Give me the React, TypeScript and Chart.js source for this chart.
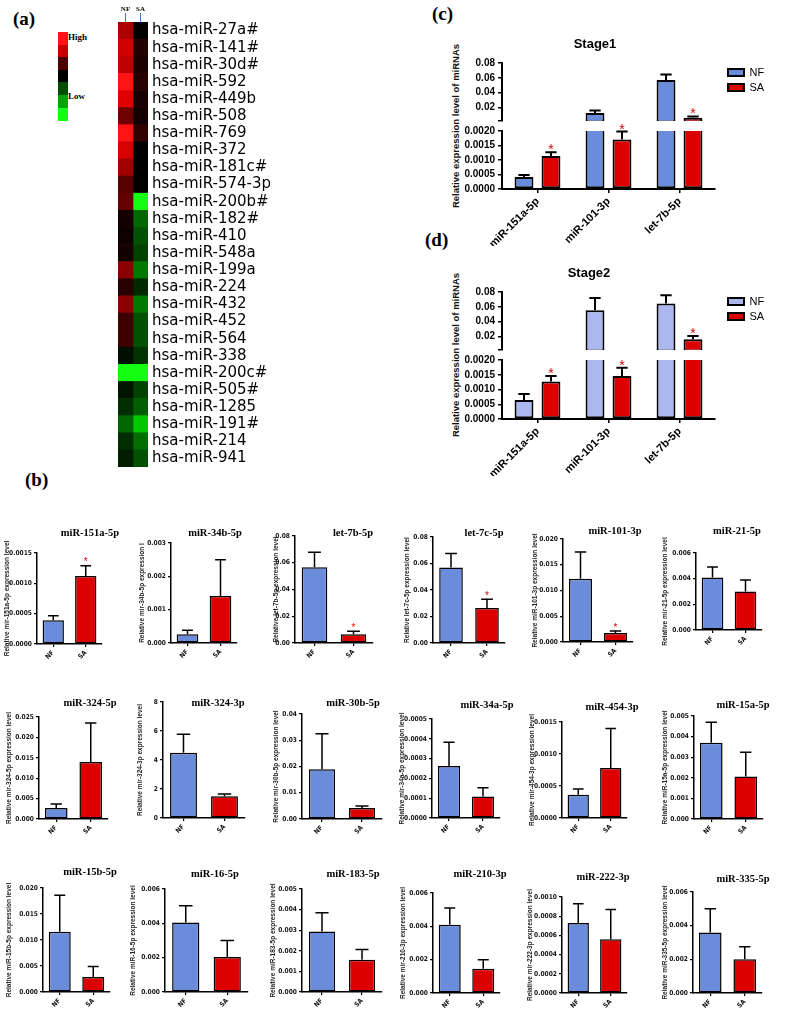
import React, { useEffect, useRef } from 'react';
import { Chart, registerables } from 'chart.js';

Chart.register(...registerables);

/* ================= DATA ================= */

/* (a) heat map */
const heatRows = [
  'hsa-miR-27a#', 'hsa-miR-141#', 'hsa-miR-30d#', 'hsa-miR-592', 'hsa-miR-449b', 'hsa-miR-508',
  'hsa-miR-769', 'hsa-miR-372', 'hsa-miR-181c#', 'hsa-miR-574-3p', 'hsa-miR-200b#', 'hsa-miR-182#',
  'hsa-miR-410', 'hsa-miR-548a', 'hsa-miR-199a', 'hsa-miR-224', 'hsa-miR-432', 'hsa-miR-452',
  'hsa-miR-564', 'hsa-miR-338', 'hsa-miR-200c#', 'hsa-miR-505#', 'hsa-miR-1285', 'hsa-miR-191#',
  'hsa-miR-214', 'hsa-miR-941',
];
const heatGroups = ['NF', 'SA'];
const heatNF = [0.67, 0.82, 0.75, 1.0, 0.88, 0.43, 1.0, 0.84, 0.63, 0.35, 0.4, 0.08, 0.06, 0.08, 0.55, 0.16, 0.55, 0.24, 0.24, -0.06, -1.0, -0.08, -0.18, -0.4, -0.18, -0.12];
const heatSA = [0.02, 0.14, 0.12, 0.16, 0.1, 0.08, 0.2, 0, 0, 0, -1.0, -0.4, -0.32, -0.26, -0.47, -0.16, -0.47, -0.32, -0.32, -0.2, -1.0, -0.26, -0.37, -0.78, -0.43, -0.32];
const heatKeyValues = [1, 0.78, 0.3, 0, -0.3, -0.65, -1];
const heatKeyLabels = ['High', 'Low'];

/* (c) and (d) */
const stageCategories = ['miR-151a-5p', 'miR-101-3p', 'let-7b-5p'];
const stageSeries = ['NF', 'SA'];
const stage1NF = [0.00041, 0.0126, 0.0571];
const stage1NFErr = [0.00007, 0.0036, 0.0076];
const stage1SA = [0.00114, 0.00171, 0.0063];
const stage1SAErr = [0.00013, 0.00027, 0.0018];
const stage2NF = [0.00064, 0.0556, 0.0644];
const stage2NFErr = [0.00021, 0.0164, 0.0112];
const stage2SA = [0.00127, 0.00146, 0.0164];
const stage2SAErr = [0.00019, 0.00028, 0.0045];
const stageSignificant = [true, true, true];
const upperMin = 0.002;
const upperTicks = [0.02, 0.04, 0.06, 0.08];
const lowerTicks = [0, 0.0005, 0.001, 0.0015, 0.002];
const stageTitles = ['Stage1', 'Stage2'];
const stageYTitle = 'Relative expression level of miRNAs';

/* (b) */
const bGroups = ['NF', 'SA'];
const bTitles = [
  'miR-151a-5p', 'miR-34b-5p', 'let-7b-5p', 'let-7c-5p', 'miR-101-3p', 'miR-21-5p',
  'miR-324-5p', 'miR-324-3p', 'miR-30b-5p', 'miR-34a-5p', 'miR-454-3p', 'miR-15a-5p',
  'miR-15b-5p', 'miR-16-5p', 'miR-183-5p', 'miR-210-3p', 'miR-222-3p', 'miR-335-5p',
];
const bYTitles = [
  'Relative mir-151a-5p expression level', 'Relative mir-34b-5p expression l', 'Relative let-7b-5p expression level',
  'Relative let-7c-5p expression level', 'Relative miR-101-3p expression level', 'Relative mir-21-5p expression level',
  'Relative mir-324-5p expression level', 'Relative mir-324-3p expression level', 'Relative mir-30b-5p expression level',
  'Relative mir-34a-5p expression level', 'Relative mir-454-3p expression level', 'Relative miR-15a-5p expression level',
  'Relative miR-15b-5p expression level', 'Relative miR-16-5p expression level', 'Relative miR-183-5p expression level',
  'Relative mir-210-3p expression level', 'Relative mir-222-3p expression level', 'Relative miR-335-5p expression level',
];
const bNF = [0.00039, 0.00026, 0.0566, 0.057, 0.01226, 0.0041, 0.0027, 4.5, 0.019, 0.000263, 0.000364, 0.0037, 0.0116, 0.00405, 0.00294, 0.0041, 0.00073, 0.0036];
const bNFErr = [0.000075, 0.00012, 0.0112, 0.0105, 0.0052, 0.0008, 0.001, 1.28, 0.0135, 0.00012, 0.00009, 0.001, 0.007, 0.00098, 0.00091, 0.001, 0.0002, 0.0014];
const bSA = [0.00112, 0.00141, 0.0065, 0.0265, 0.00174, 0.003, 0.014, 1.5, 0.0042, 0.000108, 0.00078, 0.00206, 0.0029, 0.00204, 0.00157, 0.00146, 0.00056, 0.002];
const bSAErr = [0.00017, 0.00109, 0.0022, 0.0065, 0.0004, 0.0009, 0.0095, 0.15, 0.0008, 0.000045, 0.00062, 0.00118, 0.002, 0.00096, 0.00049, 0.00054, 0.00031, 0.00075];
const bYMax = [0.0015, 0.003, 0.08, 0.08, 0.02, 0.006, 0.025, 8, 0.04, 0.0005, 0.0015, 0.005, 0.02, 0.006, 0.005, 0.006, 0.001, 0.006];
const bYStep = [0.0005, 0.001, 0.02, 0.02, 0.005, 0.002, 0.005, 2, 0.01, 0.0001, 0.0005, 0.001, 0.005, 0.002, 0.001, 0.002, 0.0002, 0.002];
const bSignificant = [true, false, true, true, true, false, false, false, false, false, false, false, false, false, false, false, false, false];

/* ================= LAYOUT / STYLE ================= */

const FONT_SANS = "'Liberation Sans', Arial, Helvetica, sans-serif";
const FONT_NARROW = "'Liberation Sans Narrow', 'Arial Narrow', 'DejaVu Sans Condensed', 'Liberation Sans', sans-serif";
const FONT_SERIF = "'Liberation Serif', 'Times New Roman', serif";
const FONT_HEAT = "'DejaVu Sans', Verdana, sans-serif";
const BLUE = '#6b8cda';
const BLUE_LIGHT = '#abb7ee';
const RED = '#dd0000';

Chart.defaults.font.family = FONT_SANS;
Chart.defaults.color = '#000';

// [axisLeft, axisRight, plotTop, plotBottom, titleCx, titleCy, yTitleCx]
const bFrames = [
  [37, 102, 553, 644, 90, 533, 7],
  [171, 237, 543, 643, 215, 533, 142],
  [295, 373, 536, 643, 353, 533, 276],
  [433, 505, 537, 643, 484, 533, 407],
  [563, 633, 539, 642, 615, 531, 535],
  [696, 762, 553, 630, 737, 531, 665],
  [39, 108, 717, 819, 90, 703, 9],
  [163, 245, 702, 818, 218, 703, 140],
  [302, 382, 714, 819, 353, 703, 276],
  [432, 500, 719, 818, 487, 705, 402],
  [562, 627, 722, 818, 612, 707, 532],
  [694, 763, 716, 819, 743, 705, 665],
  [43, 110, 888, 992, 90, 872, 9],
  [165, 248, 889, 992, 215, 874, 133],
  [302, 382, 889, 992, 353, 874, 273],
  [433, 500, 893, 993, 480, 874, 403],
  [562, 627, 897, 993, 603, 877, 530],
  [693, 762, 892, 993, 743, 879, 665],
];

const stageFrames = [
  { axisL: 502, axisR: 715, upT: 63, upB: 121, loT: 131, loB: 189, titleCx: 595, titleCy: 44, yTitleCx: 456, yTitleCy: 126 },
  { axisL: 502, axisR: 715, upT: 292, upB: 350, loT: 360, loB: 419, titleCx: 589, titleCy: 273, yTitleCx: 456, yTitleCy: 355 },
];

/* ================= HELPERS ================= */

function heatColor(v: number) {
  const a = Math.min(1, Math.abs(v));
  const main = Math.round(255 * a);
  const soft = a > 0.92 ? Math.round((a - 0.92) * 250) : 0;
  return v >= 0 ? `rgb(${main},${soft},${soft})` : `rgb(${soft},${main},${soft})`;
}

function decimalsOf(step: number) {
  return Math.max(0, Math.ceil(-Math.log10(step) - 1e-9));
}

type TextItem = { text: string; x: number; y: number; font: string; color?: string };

function textPlugin(items: TextItem[]) {
  return {
    id: 'panelText',
    afterDraw(chart: any) {
      const ctx = chart.ctx;
      ctx.save();
      items.forEach((t) => {
        ctx.font = t.font;
        ctx.fillStyle = t.color || '#000';
        ctx.textAlign = 'center';
        ctx.textBaseline = 'middle';
        ctx.fillText(t.text, t.x, t.y);
      });
      ctx.restore();
    },
  };
}

function errorBars(errs: number[][], sig: boolean[][], style: { lw: number; cap: number; starSize: number; gap: number }) {
  return {
    id: 'errorBars',
    afterDatasetsDraw(chart: any) {
      const y = chart.scales.y;
      const ctx = chart.ctx;
      ctx.save();
      chart.data.datasets.forEach((ds: any, di: number) => {
        const meta = chart.getDatasetMeta(di);
        meta.data.forEach((bar: any, i: number) => {
          const v = ds.data[i];
          const top = v + errs[di][i];
          if (v < y.min - 1e-12 || top > y.max + 1e-12) return;
          const x = bar.x;
          const y0 = y.getPixelForValue(v);
          const y1 = y.getPixelForValue(top);
          const half = (bar.width * style.cap) / 2;
          ctx.strokeStyle = '#000';
          ctx.lineWidth = style.lw;
          ctx.beginPath();
          ctx.moveTo(x, y0);
          ctx.lineTo(x, y1);
          ctx.moveTo(x - half, y1);
          ctx.lineTo(x + half, y1);
          ctx.stroke();
          if (sig[di] && sig[di][i]) {
            ctx.fillStyle = RED;
            ctx.font = `${style.starSize}px ${FONT_SANS}`;
            ctx.textAlign = 'center';
            ctx.textBaseline = 'alphabetic';
            ctx.fillText('*', x, y1 - style.gap + style.starSize * 0.57);
          }
        });
      });
      ctx.restore();
    },
  };
}

function legendFix(width: number, shift: number) {
  return {
    id: 'legendFix',
    beforeInit(chart: any) {
      const lg = chart.legend;
      if (!lg) return;
      const fit = lg.fit;
      lg.fit = function () {
        fit.call(this);
        this.width = width;
      };
    },
    afterLayout(chart: any) {
      const lg = chart.legend;
      if (lg) {
        lg.left += shift;
        lg.right += shift;
      }
    },
  };
}

type Box = { left: number; top: number; width: number; height: number };
type Spec = { key: string; box: Box; make: () => any };

function ChartBox({ spec }: { spec: Spec }) {
  const ref = useRef<HTMLCanvasElement | null>(null);
  useEffect(() => {
    if (!ref.current) return;
    const chart = new Chart(ref.current, spec.make());
    return () => chart.destroy();
  }, []);
  const { left, top, width, height } = spec.box;
  return (
    <div style={{ position: 'absolute', left, top, width, height }}>
      <canvas ref={ref} />
    </div>
  );
}

/* ================= CHART SPECS ================= */

function heatSpec(): Spec {
  const cellsW = 30;
  const labelW = 152;
  return {
    key: 'heat',
    box: { left: 118, top: 0, width: cellsW + labelW, height: 481 },
    make: () => ({
      type: 'bar',
      data: {
        labels: heatRows,
        datasets: [
          { label: heatGroups[0], data: heatRows.map(() => 1), backgroundColor: heatNF.map(heatColor), borderWidth: 0, barPercentage: 1, categoryPercentage: 1 },
          { label: heatGroups[1], data: heatRows.map(() => 1), backgroundColor: heatSA.map(heatColor), borderWidth: 0, barPercentage: 1, categoryPercentage: 1 },
        ],
      },
      options: {
        indexAxis: 'y',
        animation: false,
        responsive: true,
        maintainAspectRatio: false,
        layout: { padding: { top: 2, bottom: 14, left: 0, right: 0 } },
        plugins: { legend: { display: false }, tooltip: { enabled: false } },
        scales: {
          x: { stacked: true, min: 0, max: heatGroups.length, display: false },
          x2: {
            type: 'category',
            labels: heatGroups,
            position: 'top',
            offset: true,
            grid: { display: true, drawOnChartArea: false, drawTicks: true, tickLength: 9, color: '#3f74d0', lineWidth: 1, offset: false },
            border: { display: false },
            ticks: { color: '#000', padding: 0, autoSkip: false, maxRotation: 0, font: { family: FONT_SERIF, size: 7, weight: 'bold' } },
            afterFit: (s: any) => { s.height = 20; },
          },
          y: {
            stacked: true,
            position: 'right',
            grid: { display: false, drawTicks: false },
            border: { display: false },
            ticks: { color: '#000', padding: 4, autoSkip: false, font: { family: FONT_HEAT, size: 15 } },
            afterFit: (s: any) => { s.width = labelW; },
          },
        },
      },
    }),
  };
}

function stageSpecs(k: number): Spec[] {
  const f = stageFrames[k];
  const nf = k === 0 ? stage1NF : stage2NF;
  const nfErr = k === 0 ? stage1NFErr : stage2NFErr;
  const sa = k === 0 ? stage1SA : stage2SA;
  const saErr = k === 0 ? stage1SAErr : stage2SAErr;
  const nfColor = k === 0 ? BLUE : BLUE_LIGHT;
  const left = 440;
  const width = 787 - left;
  const legendW = 787 - f.axisR;
  const yW = f.axisL - left;
  const xH = 57;

  const datasets = () => [
    { label: stageSeries[0], data: nf, backgroundColor: nfColor, borderColor: '#000', borderWidth: 2, borderSkipped: false, barPercentage: 0.7, categoryPercentage: 0.76, clip: 0 },
    { label: stageSeries[1], data: sa, backgroundColor: RED, borderColor: '#000', borderWidth: 2, borderSkipped: false, barPercentage: 0.7, categoryPercentage: 0.76, clip: 0 },
  ];
  const errs = [nfErr, saErr];
  const sig = [stageCategories.map(() => false), stageSignificant];
  const errStyle = { lw: 2, cap: 0.6, starSize: 14, gap: 6 };
  const yCommon = {
    grid: { display: true, drawOnChartArea: false, drawTicks: true, tickLength: 4, color: '#000', lineWidth: 1.5 },
    border: { display: true, color: '#000', width: 2 },
    afterFit: (s: any) => { s.width = yW; },
  };
  const tickFont = { family: FONT_SANS, size: 10, weight: 'bold' };

  const upTop = f.titleCy - 14;
  const upper: Spec = {
    key: `s${k}u`,
    box: { left, top: upTop, width, height: f.upB + 10 - upTop },
    make: () => ({
      type: 'bar',
      data: { labels: stageCategories, datasets: datasets() },
      options: {
        animation: false,
        responsive: true,
        maintainAspectRatio: false,
        layout: { padding: { top: f.upT - upTop, bottom: 10, left: 0, right: 0 } },
        plugins: {
          tooltip: { enabled: false },
          legend: {
            display: true,
            position: 'right',
            align: 'start',
            labels: { boxWidth: 16, boxHeight: 7, padding: 4, color: '#000', font: { family: FONT_SANS, size: 11 } },
          },
        },
        scales: {
          x: { display: false, offset: true },
          y: {
            ...yCommon,
            min: upperMin,
            max: upperTicks[upperTicks.length - 1],
            afterBuildTicks: (s: any) => { s.ticks = [upperMin, ...upperTicks].map((value) => ({ value })); },
            ticks: { color: '#000', padding: 3, autoSkip: false, font: tickFont, callback: (v: any) => (v === upperMin ? '' : Number(v).toFixed(2)) },
          },
        },
      },
      plugins: [
        legendFix(legendW, 9),
        errorBars(errs, sig, errStyle),
        textPlugin([{ text: stageTitles[k], x: f.titleCx - left, y: f.titleCy - upTop, font: `bold 13px ${FONT_SANS}` }]),
      ],
    }),
  };

  const loTop = f.loT - 10;
  const lower: Spec = {
    key: `s${k}l`,
    box: { left, top: loTop, width, height: f.loB - loTop + xH },
    make: () => ({
      type: 'bar',
      data: { labels: stageCategories, datasets: datasets() },
      options: {
        animation: false,
        responsive: true,
        maintainAspectRatio: false,
        layout: { padding: { top: 10, bottom: 0, left: 0, right: legendW } },
        plugins: { tooltip: { enabled: false }, legend: { display: false } },
        scales: {
          x: {
            offset: true,
            grid: { display: true, drawOnChartArea: false, drawTicks: true, tickLength: 4, color: '#000', lineWidth: 1.5, offset: false },
            border: { display: true, color: '#000', width: 2 },
            ticks: { color: '#000', padding: 2, autoSkip: false, minRotation: 45, maxRotation: 45, font: { family: FONT_SANS, size: 11, weight: 'bold' } },
            afterFit: (s: any) => { s.height = xH; },
          },
          y: {
            ...yCommon,
            min: lowerTicks[0],
            max: lowerTicks[lowerTicks.length - 1],
            afterBuildTicks: (s: any) => { s.ticks = lowerTicks.map((value) => ({ value })); },
            ticks: { color: '#000', padding: 3, autoSkip: false, font: tickFont, callback: (v: any) => Number(v).toFixed(4) },
          },
        },
      },
      plugins: [errorBars(errs, sig, errStyle)],
    }),
  };
  return [upper, lower];
}

function smallSpec(i: number): Spec {
  const [axisL, axisR, plotT, plotB, titleX, titleY, yTitleX] = bFrames[i];
  const left = yTitleX - 4;
  const top = titleY - 10;
  const xH = 20;
  const padR = 45;
  const yW = axisL - left;
  const step = bYStep[i];
  const max = bYMax[i];
  const dec = decimalsOf(step);
  const tickVals = Array.from({ length: Math.round(max / step) + 1 }, (_, k) => +(k * step).toFixed(10));
  const smallFont = { family: FONT_NARROW, size: 6.6, weight: 'bold' };
  return {
    key: `b${i}`,
    box: { left, top, width: axisR - left + padR, height: plotB - top + xH },
    make: () => ({
      type: 'bar',
      data: {
        labels: bGroups,
        datasets: [
          {
            data: [bNF[i], bSA[i]],
            backgroundColor: [BLUE, RED],
            borderColor: '#000',
            borderWidth: 1.5,
            borderSkipped: false,
            categoryPercentage: 0.8,
            barPercentage: 0.82,
          },
        ],
      },
      options: {
        animation: false,
        responsive: true,
        maintainAspectRatio: false,
        layout: { padding: { top: plotT - top, right: padR, bottom: 0, left: 0 } },
        plugins: { legend: { display: false }, tooltip: { enabled: false } },
        scales: {
          x: {
            offset: true,
            grid: { display: true, drawOnChartArea: false, drawTicks: true, tickLength: 3, color: '#000', lineWidth: 1.2, offset: false },
            border: { display: true, color: '#000', width: 1.5 },
            ticks: { color: '#111', padding: 2, autoSkip: false, minRotation: 45, maxRotation: 45, font: smallFont },
            afterFit: (s: any) => { s.height = xH; },
          },
          y: {
            min: 0,
            max,
            afterBuildTicks: (s: any) => { s.ticks = tickVals.map((value) => ({ value })); },
            ticks: { color: '#111', padding: 2, autoSkip: false, font: smallFont, callback: (v: any) => Number(v).toFixed(dec) },
            grid: { display: true, drawOnChartArea: false, drawTicks: true, tickLength: 3, color: '#000', lineWidth: 1.2 },
            border: { display: true, color: '#000', width: 1.5 },
            title: { display: true, text: bYTitles[i], color: '#222', padding: 0, font: { family: FONT_SANS, size: 6.5, weight: 'bold' } },
            afterFit: (s: any) => { s.width = yW; },
          },
        },
      },
      plugins: [
        errorBars([[bNFErr[i], bSAErr[i]]], [[false, bSignificant[i]]], { lw: 1.5, cap: 0.5, starSize: 10, gap: 6 }),
        textPlugin([{ text: bTitles[i], x: titleX - left, y: titleY - top, font: `bold 10.5px ${FONT_SERIF}` }]),
      ],
    }),
  };
}

const allSpecs: Spec[] = [heatSpec(), ...stageSpecs(0), ...stageSpecs(1), ...bTitles.map((_, i) => smallSpec(i))];

/* ================= APP ================= */

const panelLetter = (text: string, left: number, top: number) => (
  <div key={text} style={{ position: 'absolute', left, top, font: `bold 19px ${FONT_SERIF}`, lineHeight: '20px', color: '#000', whiteSpace: 'nowrap' }}>
    {text}
  </div>
);

export default function App() {
  return (
    <div style={{ position: 'absolute', left: 0, top: 0, width: 787, height: 1018, background: '#fff', overflow: 'hidden' }}>
      {panelLetter('(a)', 13, 9)}
      {panelLetter('(b)', 25, 470)}
      {panelLetter('(c)', 432, 4)}
      {panelLetter('(d)', 425, 230)}

      {heatKeyValues.map((v, k) => (
        <div key={`key${k}`} style={{ position: 'absolute', left: 58, top: 32 + k * 12.6, width: 10, height: 13, background: heatColor(v) }} />
      ))}
      <div style={{ position: 'absolute', left: 68, top: 32, font: `bold 9px ${FONT_SERIF}`, lineHeight: '10px' }}>{heatKeyLabels[0]}</div>
      <div style={{ position: 'absolute', left: 68, top: 91, font: `bold 9px ${FONT_SERIF}`, lineHeight: '10px' }}>{heatKeyLabels[1]}</div>

      {stageFrames.map((f, k) => (
        <div
          key={`yt${k}`}
          style={{
            position: 'absolute',
            left: f.yTitleCx - 100,
            top: f.yTitleCy - 6,
            width: 200,
            height: 12,
            lineHeight: '12px',
            textAlign: 'center',
            transform: 'rotate(-90deg)',
            font: `bold 9.5px ${FONT_SANS}`,
            color: '#111',
            whiteSpace: 'nowrap',
          }}
        >
          {stageYTitle}
        </div>
      ))}

      {allSpecs.map((s) => (
        <ChartBox key={s.key} spec={s} />
      ))}
    </div>
  );
}
